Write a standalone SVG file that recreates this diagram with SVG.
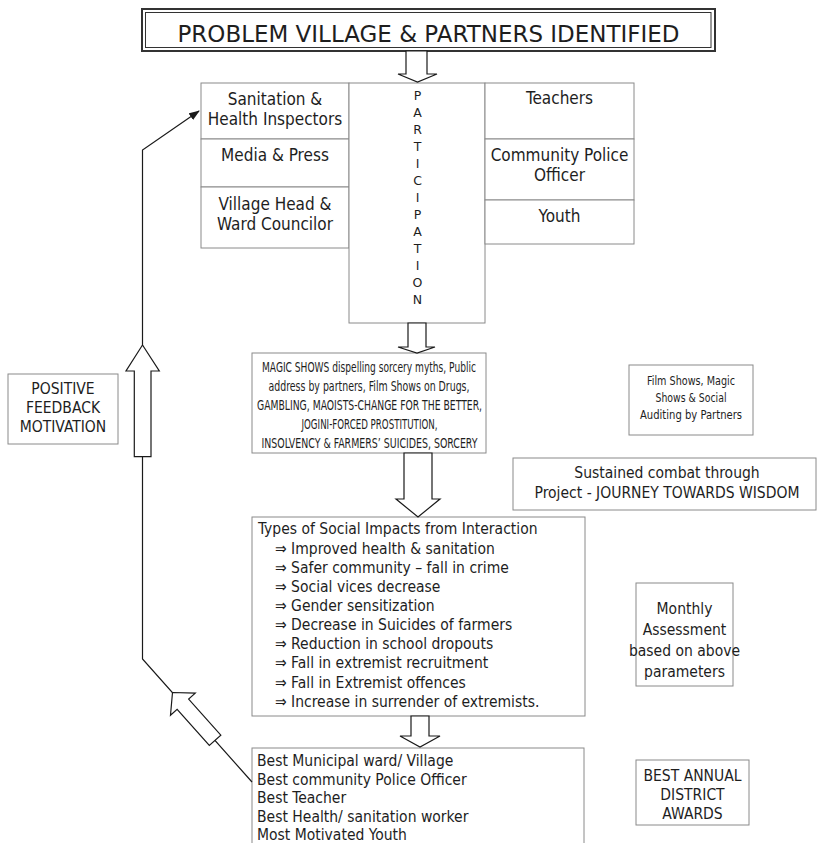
<svg xmlns="http://www.w3.org/2000/svg" width="817" height="843" viewBox="0 0 817 843">
<style>
.box{fill:#fff;stroke:#8a8a8a;stroke-width:1}
.barrow{fill:#fff;stroke:#1a1a1a;stroke-width:1.2}
.line{fill:none;stroke:#1a1a1a;stroke-width:1.2}
text{font-family:"DejaVu Sans Condensed","DejaVu Sans",sans-serif;fill:#1e1e1e}
.c{text-anchor:middle}
.p17{font-size:17px}
.p15{font-size:15.5px}
.p12{font-size:13.5px}
.pl{font-family:"DejaVu Sans",sans-serif;font-size:12.5px;text-anchor:middle}
</style>
<defs>
<marker id="ah" markerWidth="11" markerHeight="8" refX="10" refY="4" orient="auto" markerUnits="userSpaceOnUse">
<path d="M0,0 L11,4 L0,8 Z" fill="#1a1a1a"/>
</marker>
</defs>
<rect width="817" height="843" fill="#fff"/>

<g id="title">
<rect x="142" y="9" width="573" height="42" fill="#fff" stroke="#333" stroke-width="2"/>
<rect x="145.5" y="12.5" width="565.5" height="35" fill="none" stroke="#333" stroke-width="1"/>
<text x="428.5" y="42" class="c" style="font-family:'DejaVu Sans',sans-serif;font-size:23px" textLength="502" lengthAdjust="spacingAndGlyphs">PROBLEM VILLAGE &amp; PARTNERS IDENTIFIED</text>
</g>

<g id="participants-left">
<rect class="box" x="201" y="83" width="148" height="56"/>
<rect class="box" x="201" y="139" width="148" height="48"/>
<rect class="box" x="201" y="187" width="148" height="61"/>
<text class="c p17" x="275" y="104.5">Sanitation &amp;</text>
<text class="c p17" x="275" y="125">Health Inspectors</text>
<text class="c p17" x="275" y="161">Media &amp; Press</text>
<text class="c p17" x="275" y="209.5">Village Head &amp;</text>
<text class="c p17" x="275" y="230">Ward Councilor</text>
</g>

<g id="participation">
<rect class="box" x="349" y="83" width="136" height="240"/>
<text class="pl" x="417.5" y="100">P</text>
<text class="pl" x="417.5" y="117">A</text>
<text class="pl" x="417.5" y="134">R</text>
<text class="pl" x="417.5" y="151">T</text>
<text class="pl" x="417.5" y="168">I</text>
<text class="pl" x="417.5" y="185">C</text>
<text class="pl" x="417.5" y="202">I</text>
<text class="pl" x="417.5" y="219">P</text>
<text class="pl" x="417.5" y="236">A</text>
<text class="pl" x="417.5" y="253">T</text>
<text class="pl" x="417.5" y="270">I</text>
<text class="pl" x="417.5" y="287">O</text>
<text class="pl" x="417.5" y="304">N</text>
</g>

<g id="participants-right">
<rect class="box" x="485" y="83" width="149" height="56"/>
<rect class="box" x="485" y="139" width="149" height="61"/>
<rect class="box" x="485" y="200" width="149" height="44"/>
<text class="c p17" x="559.5" y="103.5">Teachers</text>
<text class="c p17" x="559.5" y="161">Community Police</text>
<text class="c p17" x="559.5" y="181">Officer</text>
<text class="c p17" x="559.5" y="222">Youth</text>
</g>

<g id="magic">
<rect class="box" x="252" y="353" width="234" height="100"/>
<text class="c p12" x="369" y="372" textLength="214" lengthAdjust="spacingAndGlyphs">MAGIC SHOWS dispelling sorcery myths, Public</text>
<text class="c p12" x="369" y="391" textLength="201" lengthAdjust="spacingAndGlyphs">address by partners, Film Shows on Drugs,</text>
<text class="c p12" x="369.5" y="410" textLength="225" lengthAdjust="spacingAndGlyphs">GAMBLING, MAOISTS-CHANGE FOR THE BETTER,</text>
<text class="c p12" x="369.5" y="429" textLength="136" lengthAdjust="spacingAndGlyphs">JOGINI-FORCED PROSTITUTION,</text>
<text class="c p12" x="369.5" y="448" textLength="216" lengthAdjust="spacingAndGlyphs">INSOLVENCY &amp; FARMERS’ SUICIDES, SORCERY</text>
</g>

<g id="film">
<rect class="box" x="629" y="365" width="124" height="70"/>
<text class="c" style="font-size:12px" x="691" y="385" textLength="88" lengthAdjust="spacingAndGlyphs">Film Shows, Magic</text>
<text class="c" style="font-size:12px" x="691" y="402" textLength="71" lengthAdjust="spacingAndGlyphs">Shows &amp; Social</text>
<text class="c" style="font-size:12px" x="691" y="419" textLength="102" lengthAdjust="spacingAndGlyphs">Auditing by Partners</text>
</g>

<g id="sustained">
<rect class="box" x="513" y="458" width="303" height="52"/>
<text class="c p15" x="667" y="478">Sustained combat through</text>
<text class="c p15" x="667" y="498">Project - JOURNEY TOWARDS WISDOM</text>
</g>

<g id="feedback">
<rect class="box" x="8" y="374" width="110" height="70"/>
<text class="c p15" x="63" y="394">POSITIVE</text>
<text class="c p15" x="63" y="413">FEEDBACK</text>
<text class="c p15" x="63" y="432">MOTIVATION</text>
</g>

<g id="impacts">
<rect class="box" x="252" y="517" width="333" height="199"/>
<text class="p15" x="258" y="534">Types of Social Impacts from Interaction</text>
<g class="p15">
<text x="275" y="553.5">⇒ Improved health &amp; sanitation</text>
<text x="275" y="572.5">⇒ Safer community – fall in crime</text>
<text x="275" y="591.5">⇒ Social vices decrease</text>
<text x="275" y="610.5">⇒ Gender sensitization</text>
<text x="275" y="629.5">⇒ Decrease in Suicides of farmers</text>
<text x="275" y="649">⇒ Reduction in school dropouts</text>
<text x="275" y="668">⇒ Fall in extremist recruitment</text>
<text x="275" y="687.5">⇒ Fall in Extremist offences</text>
<text x="275" y="707">⇒ Increase in surrender of extremists.</text>
</g>
</g>

<g id="monthly">
<rect class="box" x="636" y="583" width="97" height="103"/>
<text class="c p15" x="684.5" y="614">Monthly</text>
<text class="c p15" x="684.5" y="635">Assessment</text>
<text class="c p15" x="684.5" y="656">based on above</text>
<text class="c p15" x="684.5" y="677">parameters</text>
</g>

<g id="awards">
<rect class="box" x="252" y="748" width="332" height="110"/>
<text class="p15" x="257" y="766">Best Municipal ward/ Village</text>
<text class="p15" x="257" y="784.5">Best community Police Officer</text>
<text class="p15" x="257" y="803">Best Teacher</text>
<text class="p15" x="257" y="821.5">Best Health/ sanitation worker</text>
<text class="p15" x="257" y="840">Most Motivated Youth</text>
</g>

<g id="best-annual">
<rect class="box" x="636" y="760" width="113" height="65"/>
<text class="c p15" x="692.5" y="781">BEST ANNUAL</text>
<text class="c p15" x="692.5" y="800">DISTRICT</text>
<text class="c p15" x="692.5" y="819">AWARDS</text>
</g>

<g id="connectors">
<path class="barrow" d="M406,51 L427,51 L427,74 L437,74 L417.5,82 L398,74 L406,74 Z"/>
<path class="barrow" d="M408,323 L426,323 L426,347 L435,347 L417,353 L398,347 L408,347 Z"/>
<path class="barrow" d="M404,453 L432,453 L432,499 L440,499 L418,517 L396,499 L404,499 Z"/>
<path class="barrow" d="M411,716 L429,716 L429,736 L440,736 L420,747 L400,736 L411,736 Z"/>
<path class="line" d="M252,782 L142.5,659 L142.5,150 L199,111" marker-end="url(#ah)"/>
<path class="barrow" d="M142.5,345 L159.3,371 L151,371 L151,456.7 L134.3,456.7 L134.3,371 L126,371 Z"/>
<path class="barrow" transform="translate(172.5,692.5) rotate(-41.7)" d="M0,0 L16.6,15.6 L7.7,15.6 L7.7,64 L-7.7,64 L-7.7,15.6 L-16.6,15.6 Z"/>
</g>
</svg>
